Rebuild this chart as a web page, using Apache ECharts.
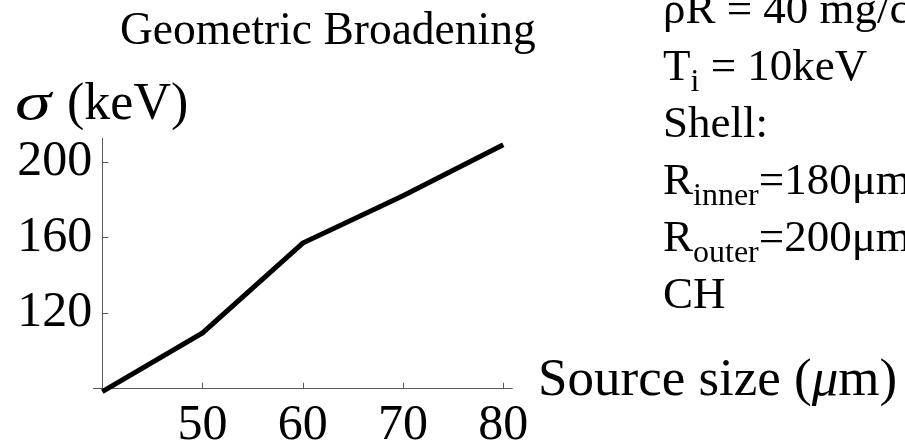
<!DOCTYPE html>
<html>
<head>
<meta charset="utf-8">
<style>
  html, body { margin: 0; padding: 0; background: #ffffff; }
  #chart { width: 905px; height: 441px; }
</style>
<script src="https://cdn.jsdelivr.net/npm/echarts@6/dist/echarts.min.js"></script>
</head>
<body>
<div id="chart"></div>
<script>
// Source size (μm) against the geometric broadening σ (keV)
const sourceSize = [40, 50, 60, 70, 80];
const sigma = [78.5, 109.5, 157, 182, 209];

// Tick positions shown on each axis
const xTicks = [50, 60, 70, 80];
const yTicks = [120, 160, 200];

const titleText = 'Geometric Broadening';
const xName = 'Source size (';
const yUnit = '(keV)';

const FONT = '"Liberation Serif", "Times New Roman", serif';

const chart = echarts.init(document.getElementById('chart'), null, { renderer: 'canvas' });

const axisColor = '#5a5a5a';

chart.setOption({
  backgroundColor: '#ffffff',
  animation: false,
  grid: {
    left: 93.3, top: 138.3, width: 419, height: 250.4,
    containLabel: false,
    outerBoundsMode: 'none'
  },
  xAxis: {
    type: 'value',
    min: 39.1,
    max: 80.9,
    splitLine: { show: false },
    axisLine: { onZero: false, lineStyle: { color: axisColor, width: 1 } },
    axisTick: { inside: true, length: 6, customValues: xTicks, lineStyle: { color: axisColor, width: 1 } },
    axisLabel: {
      customValues: xTicks,
      margin: 12,
      color: '#000',
      fontFamily: FONT,
      fontSize: 50
    }
  },
  yAxis: {
    type: 'value',
    min: 80,
    max: 212.4,
    offset: -9,
    splitLine: { show: false },
    axisLine: { onZero: false, lineStyle: { color: axisColor, width: 1 } },
    axisTick: { inside: true, length: 6, customValues: yTicks, lineStyle: { color: axisColor, width: 1 } },
    axisLabel: {
      customValues: yTicks,
      margin: 10,
      color: '#000',
      fontFamily: FONT,
      fontSize: 50
    }
  },
  series: [{
    type: 'line',
    data: sourceSize.map((x, i) => [x, sigma[i]]),
    showSymbol: false,
    symbol: 'none',
    clip: false,
    lineStyle: { color: '#000', width: 5, cap: 'butt', join: 'miter' }
  }],
  graphic: [
    {
      type: 'text',
      x: 120,
      y: 32,
      style: {
        text: titleText,
        font: '45.5px ' + FONT,
        verticalAlign: 'middle',
        fill: '#000'
      }
    },
    {
      // wide math-italic sigma
      type: 'text',
      x: 15,
      y: 105,
      scaleX: 1.4,
      style: {
        text: 'σ',
        font: 'italic 52px ' + FONT,
        verticalAlign: 'middle',
        fill: '#000'
      }
    },
    {
      type: 'text',
      x: 67,
      y: 105,
      style: {
        text: yUnit,
        font: '52px ' + FONT,
        verticalAlign: 'middle',
        fill: '#000'
      }
    },
    {
      type: 'text',
      x: 538,
      y: 381.5,
      style: {
        text: '{n|' + xName + '}{s|μ}{n|m)}',
        verticalAlign: 'middle',
        rich: {
          s: { fontFamily: FONT, fontSize: 53, fontStyle: 'italic', fill: '#000' },
          n: { fontFamily: FONT, fontSize: 53, fill: '#000' }
        }
      }
    },
    {
      type: 'text',
      x: 663,
      y: -17,
      style: {
        text: [
          '{n|ρR = 40 mg/cm²}',
          '{n|T}{b|i}{n| = 10keV}',
          '{n|Shell:}',
          '{n|R}{b|inner}{n|=180μm}',
          '{n|R}{b|outer}{n|=200μm}',
          '{n|CH}'
        ].join('\n'),
        verticalAlign: 'top',
        rich: {
          n: { fontFamily: FONT, fontSize: 45, lineHeight: 57, verticalAlign: 'middle', fill: '#000' },
          b: { fontFamily: FONT, fontSize: 32, verticalAlign: 'bottom', padding: [0, 0, -2, 0], fill: '#000' }
        }
      }
    }
  ]
});
</script>
</body>
</html>
